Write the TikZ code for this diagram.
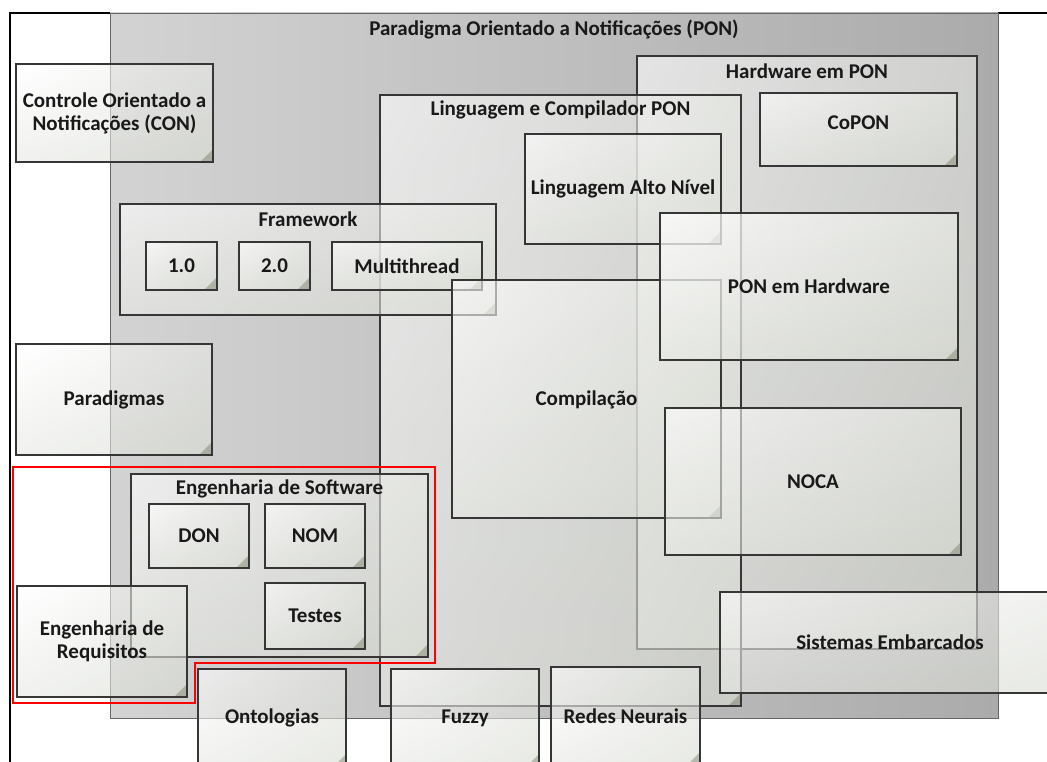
\documentclass[tikz,border=0pt]{standalone}
\usepackage{fontspec}
\setmainfont{Carlito}
\usetikzlibrary{fit,calc,shadings}

\definecolor{edge}{HTML}{363636}
\definecolor{tileA}{HTML}{FFFFFF}
\definecolor{tileB}{HTML}{E7E9E4}
\definecolor{tileC}{HTML}{D8DBD3}
\definecolor{ponL}{HTML}{D3D3D3}
\definecolor{ponM}{HTML}{C6C6C6}
\definecolor{ponR}{HTML}{ABABAB}
\definecolor{fold}{HTML}{6A7458}

\tikzset{
  tile/.style={draw=edge, line width=1.2pt, inner sep=0pt,
    fill opacity=0.6, text opacity=1,
    upper left=tileA, upper right=tileB, lower left=tileB, lower right=tileC,
    path picture={
      \fill[fold, fill opacity=0.4]
        (path picture bounding box.south east) -- ++(-13,0)
        -- ($(path picture bounding box.south east)+(0,-13)$) -- cycle;}},
  bright/.style={tile, fill opacity=0.75},
  lbl/.style={font=\bfseries\fontsize{21}{23}\selectfont, text=black!90,
    align=center, inner sep=0pt},
}

\begin{document}
\begin{tikzpicture}[x=1pt,y=-1pt]
\useasboundingbox (0,0) rectangle (1047,762);

% outer frame
\draw[black, line width=1.3pt] (10,800) -- (10,13) -- (1060,13);

% Paradigma Orientado a Notificacoes
\node[draw=black!60, line width=0.8pt, inner sep=0pt,
      left color=ponL, middle color=ponM, right color=ponR,
      fit={(110,13) (998,718)}] (pon) {};
\node[lbl] at ($(pon.north)+(0,17)$) {Paradigma Orientado a Notificações (PON)};

% Controle Orientado a Notificacoes
\node[tile, fit={(16,64) (213,162)}] (con) {};
\node[lbl] at (con.center) {Controle Orientado a\\Notificações (CON)};

% Hardware em PON
\node[tile, fit={(637,56) (977,649)}] (hw) {};
\node[lbl] at ($(hw.north)+(0,16)$) {Hardware em PON};

% Linguagem e Compilador PON
\node[tile, fit={(380,95) (741,706)}] (lc) {};
\node[lbl] at ($(lc.north)+(0,16)$) {Linguagem e Compilador PON};

\node[tile, fit={(525,134) (721,244)}] (lan) {};
\node[lbl] at (lan.center) {Linguagem Alto Nível};

\node[tile, fit={(760,93) (957,166)}] (copon) {};
\node[lbl] at ($(copon.center)+(0,-7)$) {CoPON};

% Framework
\node[tile, fit={(120,204) (496,315)}] (fw) {};
\node[lbl] at ($(fw.north)+(0,16)$) {Framework};
\node[tile, fit={(146,242) (217,290)}] (v1) {};
\node[lbl] at (v1.center) {1.0};
\node[tile, fit={(239,242) (310,290)}] (v2) {};
\node[lbl] at (v2.center) {2.0};
\node[tile, fit={(332,242) (482,290)}] (mt) {};
\node[lbl] at (mt.center) {Multithread};

\node[tile, fit={(452,280) (721,518)}] (comp) {};
\node[lbl] at ($(comp.center)+(0,1)$) {Compilação};

\node[bright, fit={(660,213) (958,360)}] (ponhw) {};
\node[lbl] at (ponhw.center) {PON em Hardware};

\node[tile, fit={(665,408) (961,555)}] (noca) {};
\node[lbl] at (noca.center) {NOCA};

\node[tile, fit={(16,344) (212,455)}] (par) {};
\node[lbl] at (par.center) {Paradigmas};

% Engenharia de Software
\node[tile, fit={(131,474) (428,657)}] (es) {};
\node[lbl] at ($(es.north)+(0,16)$) {Engenharia de Software};
\node[tile, fit={(149,504) (249,568)}] (don) {};
\node[lbl] at (don.center) {DON};
\node[tile, fit={(265,504) (365,568)}] (nom) {};
\node[lbl] at (nom.center) {NOM};
\node[tile, fit={(265,583) (365,649)}] (test) {};
\node[lbl] at (test.center) {Testes};

\node[tile, fit={(17,586) (187,697)}] (req) {};
\node[lbl] at (req.center) {Engenharia de\\Requisitos};

% highlighted region
\draw[red, line width=2.8pt, line join=miter]
  (13,467) -- (435,467) -- (435,663) -- (195,663) -- (195,703) -- (13,703) -- cycle;

\node[tile, fit={(198,669) (346,767)}] (onto) {};
\node[lbl] at (onto.center) {Ontologias};
\node[tile, fit={(391,669) (539,767)}] (fuzzy) {};
\node[lbl] at (fuzzy.center) {Fuzzy};
\node[tile, fit={(551,667) (700,765)}] (rn) {};
\node[lbl] at (rn.center) {Redes Neurais};
\node[tile, fit={(720,592) (1060,693)}] (se) {};
\node[lbl] at (se.center) {Sistemas Embarcados};
\end{tikzpicture}
\end{document}
